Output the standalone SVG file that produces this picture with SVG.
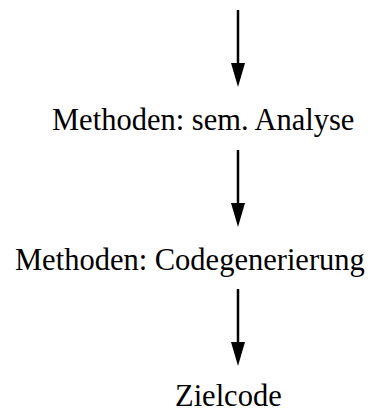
<svg xmlns="http://www.w3.org/2000/svg" width="375" height="412" viewBox="0 0 375 412">
<style>
.t{font-family:"Liberation Serif","Times New Roman",serif;font-size:30.5px;fill:#000}
.c{stroke:#000;stroke-width:2.5;fill:none}
</style>
<rect width="375" height="412" fill="#fff"/>
<g id="connectors">
<line class="c" x1="238" y1="10" x2="238" y2="64"/>
<path d="M231,63 L245,63 L238,87 Z" fill="#000"/>
<line class="c" x1="238" y1="150" x2="238" y2="204"/>
<path d="M231,203 L245,203 L238,227 Z" fill="#000"/>
<line class="c" x1="238" y1="289" x2="238" y2="343"/>
<path d="M231,342 L245,342 L238,366 Z" fill="#000"/>
</g>
<g id="n1"><text class="t" x="52" y="130">Methoden: sem. Analyse</text></g>
<g id="n2"><text class="t" x="15" y="270">Methoden: Codegenerierung</text></g>
<g id="n3"><text class="t" x="175" y="406">Zielcode</text></g>
</svg>
